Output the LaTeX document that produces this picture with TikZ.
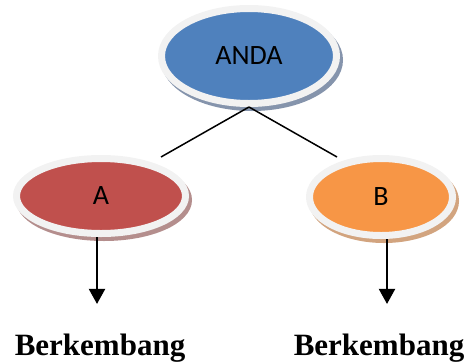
\documentclass[tikz,border=0pt]{standalone}
\usepackage{fontspec}
\setmainfont{Liberation Serif}
\newfontfamily\calibri{Carlito}
\usetikzlibrary{arrows.meta,positioning,shapes.geometric,shadows}
\definecolor{biru}{HTML}{4F81BD}
\definecolor{merah}{HTML}{C0504D}
\definecolor{oranye}{HTML}{F79646}
\definecolor{tepi}{HTML}{F2F2F2}
\definecolor{bayangbiru}{HTML}{8594AC}
\definecolor{bayangmerah}{HTML}{B48E8D}
\definecolor{bayangoranye}{HTML}{D2A47F}
\tikzset{
    %Panah standar
    >={Triangle[width=16pt,length=15pt]},
    %Gaya untuk elips
    bulat/.style={
           ellipse,
           draw=tepi,
           line width=7pt,
           inner sep=0pt,
           font=\calibri\fontsize{28}{30}\selectfont},
    %Bayangan elips
    bayang/.style={
           drop shadow={shadow xshift=3pt, shadow yshift=-4pt,
                        opacity=1, fill=#1, draw=#1, line width=7pt}},
    %Gaya garis dan panah
    garis/.style={line width=1.5pt},
    panah/.style={
           ->,
           line width=2pt,
           shorten >=26pt},
    tulisan/.style={font=\bfseries\fontsize{31}{33}\selectfont}
}
\begin{document}
\begin{tikzpicture}[x=1pt, y=-1pt]
 \useasboundingbox (0,0) rectangle (470,362);
 %elips
 \node[bulat, bayang=bayangbiru, fill=biru, minimum width=175pt, minimum height=95pt] (anda) at (249,56) {ANDA};
 \node[bulat, bayang=bayangmerah, fill=merah, minimum width=169pt, minimum height=75pt] (a) at (101,196) {A};
 \node[bulat, bayang=bayangoranye, fill=oranye, minimum width=143pt, minimum height=77pt] (b) at (381,197) {B};
 % ujung garis yang tidak menyentuh elips
 \coordinate (ujunga) at (161,157);
 \coordinate (ujungb) at (337,157);
 \draw[garis] (anda.south) -- (ujunga);
 \draw[garis] (anda.south) -- (ujungb);
 %tulisan bawah
 \node[tulisan, anchor=base] (berka) at (100,355) {Berkembang};
 \node[tulisan, anchor=base] (berkb) at (379,355) {Berkembang};
 \draw[panah] ([xshift=-4pt]a.south) -- ([xshift=-4pt]a.south |- berka.north);
 \draw[panah] ([xshift=6pt]b.south) -- ([xshift=6pt]b.south |- berkb.north);
\end{tikzpicture}
\end{document}
